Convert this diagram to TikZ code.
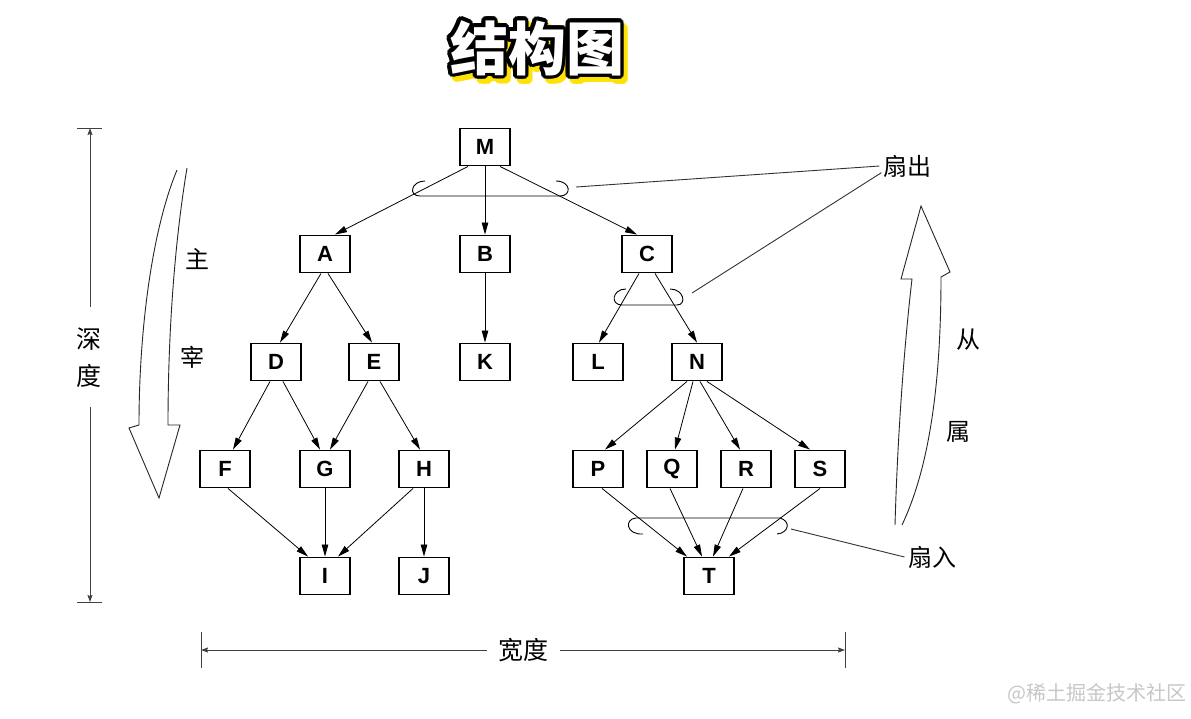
\documentclass[tikz,border=0pt]{standalone}
\usepackage{fontspec}
\setmainfont{Liberation Sans}
\newfontfamily\cjk{Noto Sans CJK SC}
\usetikzlibrary{arrows.meta}
\begin{document}
\begin{tikzpicture}[x=1pt,y=-1pt,
  box/.style={draw,line width=1.9pt,minimum width=50pt,minimum height=37pt,inner sep=0pt,font=\bfseries\fontsize{22}{22}\selectfont},
  edge/.style={line width=0.8pt,-{Triangle[length=12pt,width=6.5pt]}},
  fan/.style={line width=0.9pt},
  lead/.style={line width=0.9pt,draw=black!80},
  dim/.style={line width=0.9pt,draw=black!75,-{Stealth[length=7pt,width=5pt,inset=1pt]}},
  tick/.style={line width=1pt,draw=black!75},
  cjklab/.style={font=\cjk\fontsize{24}{24}\selectfont},
  bigarrow/.style={line width=0.9pt,draw=black!85,line join=miter},
  titlefont/.style={font=\cjk\bfseries\fontsize{58}{58}\selectfont,inner sep=0pt}
]
\useasboundingbox[fill=white] (0,0) rectangle (1191,718);

% title: yellow shadow, black outline, white letters
\coordinate (TT) at (537,48);
\foreach \a in {0,22.5,...,337.5}{
  \node[titlefont,text=yellow!85!orange] at ([shift={(\a:3.5)}]541,53) {结构图};
}
\foreach \a in {0,22.5,...,337.5}{
  \node[titlefont,text=black] at ([shift={(\a:3.5)}]TT) {结构图};
}
\node[titlefont,text=white] (title) at (TT) {结构图};

% nodes
\node[box] (M) at (485,147) {M};
\node[box] (A) at (325,254) {A};
\node[box] (B) at (485,254) {B};
\node[box] (C) at (647,254) {C};
\node[box] (D) at (276,362) {D};
\node[box] (E) at (374,362) {E};
\node[box] (K) at (485,362) {K};
\node[box] (L) at (598,362) {L};
\node[box] (N) at (697,362) {N};
\node[box] (F) at (225,469) {F};
\node[box] (G) at (325,469) {G};
\node[box] (H) at (424,469) {H};
\node[box] (P) at (598,469) {P};
\node[box] (Q) at (672,469) {Q};
\node[box] (R) at (746,469) {R};
\node[box] (S) at (820,469) {S};
\node[box] (I) at (325,576) {I};
\node[box] (J) at (424,576) {J};
\node[box] (T) at (709,576) {T};

% edges
\foreach \s/\so/\t/\to in {M/-17/A/10, M/0/B/0, M/15/C/-10,
  A/-4/D/4, A/3/E/-2, B/0/K/0, C/-8/L/1, C/8/N/0,
  D/-6/F/8, D/7/G/-5, E/-6/G/5, E/6/H/-4,
  F/3/I/-17, G/0/I/0, H/-11/I/13, H/0/J/0,
  N/-10/P/7, N/-4/Q/3, N/3/R/-6, N/10/S/-10,
  P/4/T/-22, Q/-2/T/-7, R/-3/T/4, S/0/T/20}{
  \draw[edge] ([xshift=\so pt]\s.south) -- ([xshift=\to pt]\t.north);
}

% fan brackets
\draw[fan] (425,181) .. controls (411,181) and (408,196) .. (420,196) -- (560,196)
  .. controls (572,196) and (571,181) .. (556,181);
\draw[fan] (626,289) .. controls (612,289) and (610,305) .. (622,305) -- (677,305)
  .. controls (687,305) and (684,289) .. (670,289);
\draw[fan] (643,534) .. controls (626,535) and (624,519) .. (636,518) -- (780,518)
  .. controls (791,521) and (789,533) .. (777,534);

% labels and leaders
\node[cjklab] (fanout) at (907,166) {扇出};
\node[cjklab] (fanin) at (932,557) {扇入};
\coordinate (lo1) at (576,187);
\coordinate (lo2) at (692,293);
\coordinate (li1) at (791,529);
\draw[lead] (lo1) -- (fanout.west);
\draw[lead] (lo2) -- ([yshift=8pt,xshift=2pt]fanout.south west);
\draw[lead] (li1) -- (fanin.west);

% depth dimension
\node[cjklab,align=center,inner sep=0pt,font=\cjk\fontsize{25}{37}\selectfont] (depth) at (89,358) {深\\度};
\coordinate (dt) at (90,128);
\coordinate (db) at (90,602);
\draw[tick] (77,128) -- (102,128);
\draw[tick] (77,602) -- (102,602);
\draw[dim] (90,307) -- (dt);
\draw[dim] (90,407) -- (db);

% width dimension
\node[cjklab,inner sep=0pt,font=\cjk\fontsize{25}{25}\selectfont] (width) at (523,650) {宽度};
\coordinate (wl) at (201,650);
\coordinate (wr) at (845,650);
\draw[tick] (201,632) -- (201,668);
\draw[tick] (845,632) -- (845,668);
\draw[dim] (487,650) -- (wl);
\draw[dim] (560,650) -- (wr);

% left big arrow (dominant)
\draw[bigarrow] (177,170) .. controls (152,230) and (139,330) .. (139,425) -- (129,428)
  -- (159,498) -- (180,425) -- (168,425) .. controls (168,330) and (175,240) .. (187,168);
\node[cjklab] (zhu) at (197,259) {主};
\node[cjklab] (zai) at (192,357) {宰};

% right big arrow (subordinate)
\draw[bigarrow] (895,525) .. controls (898,420) and (906,330) .. (912,279) -- (901,279)
  -- (921,206) -- (950,272) -- (941,277) .. controls (941,390) and (928,470) .. (902,525);
\node[cjklab] (cong) at (968,340) {从};
\node[cjklab] (shu) at (958,432) {属};

% watermark
\node[font=\cjk\fontsize{20}{20}\selectfont,text=black!22] (wm) at (1097,694) {@稀土掘金技术社区};
\end{tikzpicture}
\end{document}
